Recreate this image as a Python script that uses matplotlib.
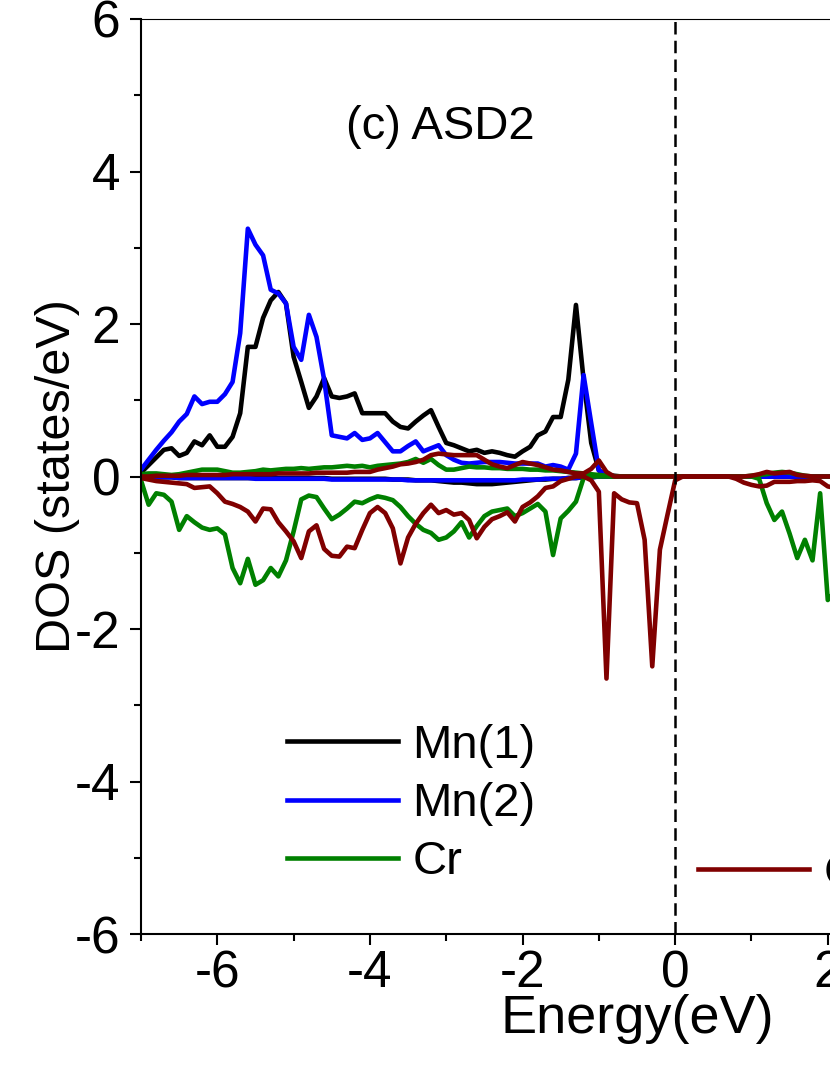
import numpy as np
import matplotlib
matplotlib.use("Agg")
import matplotlib.pyplot as plt
from matplotlib.lines import Line2D

plt.rcParams['font.family'] = ['Liberation Sans', 'DejaVu Sans']
plt.rcParams['axes.unicode_minus'] = False

# energy grid (eV), -7.0 ... 2.1
energy = np.round(np.arange(-7.0, 2.15, 0.1), 1)

mn1_up = [0.05, 0.15, 0.25, 0.35, 0.37, 0.27, 0.31, 0.46, 0.41, 0.54,
          0.39, 0.39, 0.52, 0.83, 1.70, 1.70, 2.08, 2.31, 2.42, 2.27,
          1.57, 1.24, 0.90, 1.05, 1.29, 1.05, 1.03, 1.05, 1.09, 0.83,
          0.83, 0.83, 0.83, 0.72, 0.65, 0.63, 0.72, 0.80, 0.87, 0.65,
          0.44, 0.41, 0.37, 0.33, 0.35, 0.31, 0.33, 0.31, 0.28, 0.26,
          0.33, 0.39, 0.54, 0.59, 0.78, 0.78, 1.27, 2.25, 1.27, 0.44,
          0.08, 0.02, 0.01, 0, 0, 0, 0, 0, 0, 0,
          0, 0, 0, 0, 0, 0, 0, 0, 0, 0,
          0, 0, 0, 0, 0, 0, 0, 0, 0, 0,
          0, 0]
mn1_dn = [-0.01, -0.01, -0.01, -0.01, -0.01, -0.02, -0.02, -0.02, -0.02, -0.02,
          -0.02, -0.02, -0.02, -0.02, -0.02, -0.02, -0.02, -0.02, -0.02, -0.02,
          -0.02, -0.02, -0.02, -0.02, -0.02, -0.03, -0.03, -0.03, -0.03, -0.03,
          -0.03, -0.03, -0.03, -0.04, -0.04, -0.04, -0.05, -0.05, -0.05, -0.06,
          -0.07, -0.08, -0.08, -0.09, -0.10, -0.10, -0.10, -0.09, -0.08, -0.07,
          -0.06, -0.05, -0.04, -0.04, -0.03, -0.03, -0.02, -0.02, -0.01, -0.01,
          0, 0, 0, 0, 0, 0, 0, 0, 0, 0,
          0, 0, 0, 0, 0, 0, 0, 0, 0, 0,
          0, 0, 0, 0, 0, 0, 0, 0, 0, 0,
          0, 0]
mn2_up = [0.09, 0.22, 0.35, 0.47, 0.58, 0.72, 0.82, 1.05, 0.95, 0.98,
          0.98, 1.08, 1.24, 1.88, 3.25, 3.04, 2.90, 2.45, 2.40, 2.27,
          1.70, 1.53, 2.12, 1.83, 1.27, 0.54, 0.52, 0.50, 0.57, 0.48,
          0.50, 0.57, 0.45, 0.33, 0.33, 0.40, 0.46, 0.33, 0.37, 0.41,
          0.28, 0.22, 0.18, 0.17, 0.18, 0.19, 0.19, 0.19, 0.18, 0.17,
          0.17, 0.17, 0.17, 0.13, 0.15, 0.13, 0.09, 0.30, 1.33, 0.70,
          0.08, 0.02, 0, 0, 0, 0, 0, 0, 0, 0,
          0, 0, 0, 0, 0, 0, 0, 0, 0, 0,
          0, 0, 0, 0, 0, 0, 0, 0, 0, 0,
          0, 0]
mn2_dn = [-0.01, -0.01, -0.01, -0.01, -0.01, -0.02, -0.02, -0.02, -0.02, -0.02,
          -0.02, -0.02, -0.02, -0.02, -0.02, -0.03, -0.03, -0.03, -0.03, -0.03,
          -0.03, -0.03, -0.03, -0.03, -0.03, -0.04, -0.04, -0.04, -0.04, -0.04,
          -0.04, -0.04, -0.04, -0.04, -0.04, -0.05, -0.05, -0.05, -0.05, -0.05,
          -0.05, -0.05, -0.05, -0.05, -0.05, -0.05, -0.05, -0.05, -0.05, -0.05,
          -0.04, -0.04, -0.04, -0.03, -0.03, -0.03, -0.02, -0.02, -0.01, -0.01,
          0, 0, 0, 0, 0, 0, 0, 0, 0, 0,
          0, 0, 0, 0, 0, 0, 0, 0, 0, 0,
          0, 0, 0, 0, 0, 0, 0, 0, 0, 0,
          0, 0]
cr_up = [0.03, 0.04, 0.04, 0.03, 0.02, 0.03, 0.05, 0.07, 0.09, 0.09,
         0.09, 0.07, 0.05, 0.05, 0.06, 0.07, 0.09, 0.08, 0.09, 0.10,
         0.10, 0.11, 0.10, 0.11, 0.12, 0.12, 0.13, 0.14, 0.13, 0.14,
         0.12, 0.14, 0.15, 0.16, 0.17, 0.19, 0.23, 0.18, 0.23, 0.15,
         0.09, 0.09, 0.11, 0.13, 0.12, 0.12, 0.11, 0.11, 0.10, 0.10,
         0.10, 0.09, 0.09, 0.08, 0.08, 0.07, 0.06, 0.05, 0.04, 0.03,
         0.02, 0.01, 0, 0, 0, 0, 0, 0, 0, 0,
         0, 0, 0, 0, 0, 0, 0, 0, 0, 0,
         0.01, 0.02, 0.03, 0.05, 0.06, 0.05, 0.03, 0.01, 0, 0,
         0, 0]
cr_dn = [-0.05, -0.37, -0.22, -0.24, -0.33, -0.70, -0.52, -0.60, -0.67, -0.70,
         -0.68, -0.76, -1.20, -1.40, -1.08, -1.42, -1.36, -1.20, -1.31, -1.10,
         -0.72, -0.30, -0.25, -0.27, -0.42, -0.56, -0.50, -0.42, -0.33, -0.35,
         -0.30, -0.26, -0.28, -0.31, -0.40, -0.52, -0.62, -0.70, -0.74, -0.83,
         -0.80, -0.72, -0.60, -0.80, -0.65, -0.52, -0.46, -0.44, -0.42, -0.52,
         -0.48, -0.42, -0.36, -0.46, -1.03, -0.55, -0.45, -0.33, -0.02, 0.0,
         0, 0, 0, 0, 0, 0, 0, 0, 0, 0,
         0, 0, 0, 0, 0, 0, 0, 0, 0, 0,
         0, -0.03, -0.35, -0.57, -0.46, -0.75, -1.07, -0.83, -1.10, -0.22,
         -1.62, -1.50]
x_up = [0.00, 0.00, 0.01, 0.01, 0.01, 0.01, 0.02, 0.02, 0.02, 0.02,
        0.02, 0.02, 0.03, 0.03, 0.03, 0.03, 0.03, 0.03, 0.04, 0.04,
        0.04, 0.04, 0.04, 0.05, 0.05, 0.05, 0.05, 0.05, 0.06, 0.06,
        0.06, 0.09, 0.11, 0.13, 0.16, 0.17, 0.19, 0.22, 0.28, 0.30,
        0.29, 0.28, 0.28, 0.28, 0.28, 0.22, 0.16, 0.13, 0.11, 0.15,
        0.19, 0.17, 0.15, 0.12, 0.09, 0.08, 0.06, 0.04, 0.04, 0.10,
        0.21, 0.06, 0, 0, 0, 0, 0, 0, 0, 0,
        0, 0, 0, 0, 0, 0, 0, 0, 0, 0,
        0.01, 0.03, 0.06, 0.04, 0.05, 0.06, 0.02, 0.01, 0, 0,
        0, 0]
x_dn = [-0.02, -0.04, -0.06, -0.07, -0.08, -0.09, -0.10, -0.15, -0.14, -0.13,
        -0.22, -0.33, -0.36, -0.40, -0.46, -0.59, -0.42, -0.43, -0.60, -0.72,
        -0.85, -1.07, -0.72, -0.64, -0.95, -1.04, -1.05, -0.92, -0.94, -0.70,
        -0.48, -0.40, -0.48, -0.68, -1.14, -0.80, -0.62, -0.48, -0.37, -0.48,
        -0.44, -0.50, -0.48, -0.57, -0.81, -0.66, -0.56, -0.52, -0.47, -0.59,
        -0.40, -0.34, -0.26, -0.15, -0.13, -0.06, -0.03, 0.0, 0.0, -0.05,
        -0.20, -2.65, -0.22, -0.30, -0.34, -0.35, -0.83, -2.49, -0.96, -0.50,
        -0.05, 0, 0, 0, 0, 0, 0, 0, -0.03, -0.08,
        -0.11, -0.13, -0.12, -0.07, -0.07, -0.07, -0.06, -0.06, -0.05, -0.06,
        -0.13, -0.15]

labels = ['Mn(1)', 'Mn(2)', 'Cr', 'Ga']
colors = ['#000000', '#0000ff', '#008000', '#800000']
series = [(mn1_up, mn1_dn), (mn2_up, mn2_dn), (cr_up, cr_dn), (x_up, x_dn)]

fig = plt.figure(figsize=(8.3, 10.75), dpi=100)
# axes run from -7 to 6 eV, the right part falls outside the picture
ax = fig.add_axes([141/830, 141/1075, 992/830, 915/1075])

for (up, dn), c in zip(series, colors):
    ax.plot(energy, up, color=c, lw=3.3)
    ax.plot(energy, dn, color=c, lw=3.3)

ax.axvline(0, color='black', lw=1.8, ls=(0, (5, 2.5)))

ax.set_xlim(-7, 6)
ax.set_ylim(-6, 6)
ax.set_xticks([-6, -4, -2, 0, 2, 4, 6])
ax.set_xticks([-7, -5, -3, -1, 1, 3, 5], minor=True)
ax.set_yticks([-6, -4, -2, 0, 2, 4, 6])
ax.set_yticks([-5, -3, -1, 1, 3, 5], minor=True)
ax.tick_params(which='both', direction='out', width=1.5, labelsize=37)
ax.tick_params(which='major', length=8)
ax.tick_params(which='minor', length=5)
ax.tick_params(axis='x', pad=3)
ax.tick_params(axis='y', pad=7)
for s in ['left', 'bottom']:
    ax.spines[s].set_linewidth(1.5)
ax.spines['top'].set_linewidth(0.8)

ax.set_xlabel('Energy(eV)', fontsize=39)
ax.xaxis.set_label_coords(0.5, -0.066)
ax.xaxis.label.set_va('top')
ax.set_ylabel('DOS (states/eV)', fontsize=35)
ax.yaxis.set_label_coords(-0.061, 0.5)

ax.text(0.3014, 0.869, '(c) ASD2', transform=ax.transAxes, fontsize=34,
        ha='center', va='baseline')

h = [Line2D([], [], color=c, lw=3.3) for c in colors]
leg1 = fig.legend(h[:3], labels[:3], loc='upper left',
                  bbox_to_anchor=(287/830, 1 - 724/1075), frameon=False,
                  fontsize=34, handlelength=2.35, handletextpad=0.3,
                  labelspacing=0.3, borderpad=0, borderaxespad=0)
leg2 = fig.legend(h[3:], labels[3:], loc='center left',
                  bbox_to_anchor=(698/830, 1 - 874/1075), frameon=False,
                  fontsize=34, handlelength=2.35, handletextpad=0.3,
                  borderpad=0, borderaxespad=0)

fig.savefig('out.png', dpi=100)
